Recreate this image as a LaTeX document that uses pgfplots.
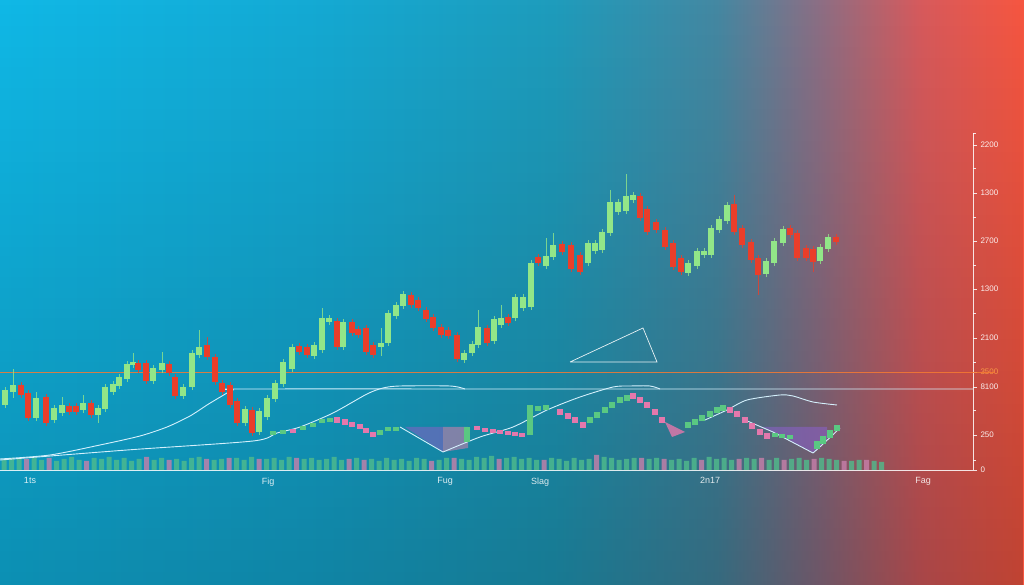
\documentclass[border=0pt]{standalone}
\usepackage{pgfplots}
\pgfplotsset{compat=1.18}
\usepackage{pgfplotstable}
\usepackage{fontspec}
\setmainfont{Liberation Sans}
\usetikzlibrary{fadings}

\definecolor{bg0}{RGB}{16,184,230}
\definecolor{bg1}{RGB}{20,170,212}
\definecolor{bg2}{RGB}{30,156,188}
\definecolor{bg3}{RGB}{68,136,162}
\definecolor{bg4}{RGB}{140,110,132}
\definecolor{bg5}{RGB}{215,90,92}
\definecolor{bg6}{RGB}{246,86,64}
\pgfdeclarehorizontalshading{bgshade}{100bp}{color(0bp)=(bg0); color(25bp)=(bg0); color(40bp)=(bg1); color(52bp)=(bg2); color(60bp)=(bg3); color(65bp)=(bg4); color(70bp)=(bg5); color(75bp)=(bg6); color(100bp)=(bg6)}

\definecolor{cgreen}{RGB}{146,230,136}
\definecolor{cred}{RGB}{234,62,42}
\definecolor{volgreen}{RGB}{80,188,140}
\definecolor{volpink}{RGB}{200,128,170}
\definecolor{oscgreen}{RGB}{90,200,130}
\definecolor{oscpink}{RGB}{228,120,172}
\definecolor{cpurple}{RGB}{136,96,196}
\definecolor{curve}{RGB}{212,240,252}
\definecolor{orangeline}{RGB}{246,122,50}

% candles: x, body bottom, body top, low, high
\pgfplotstableread{
x bot top low high
5 65 80 62 83
13 78 85 72 101
36 52 72 49 78
54 50 62 47 65
62 57 65 54 73
83 60 67 57 75
98 55 62 47 65
105 61 83 58 86
113 78 86 75 89
119 84 93 81 96
127 91 106 88 109
133 105 108 102 117
153 89 102 86 105
162 100 107 97 118
183 74 83 71 86
192 83 117 80 120
199 115 123 112 140
245 47 61 44 64
259 38 59 35 62
267 53 72 50 75
275 71 87 68 90
283 86 108 83 111
292 101 123 98 126
314 114 125 111 128
322 120 152 117 162
329 148 152 145 155
343 123 148 120 151
381 123 127 114 142
388 127 157 124 160
396 154 165 151 168
403 164 176 161 179
464 110 117 107 120
472 117 126 114 129
478 125 143 122 160
494 129 151 126 154
501 145 152 142 165
515 152 173 149 176
523 162 173 159 176
531 163 207 160 210
546 204 214 201 232
553 213 225 210 237
588 207 227 204 230
595 219 227 216 230
602 220 238 217 241
610 237 268 234 280
618 258 268 255 271
626 259 274 256 296
633 270 275 267 278
688 197 207 194 210
697 204 219 201 222
704 215 219 212 222
711 215 242 212 245
719 240 251 237 254
727 249 265 246 268
766 196 209 193 212
774 207 229 204 232
783 227 241 224 244
820 209 223 206 226
828 221 233 218 236
}\greens

\pgfplotstableread{
x bot top low high
21 75 85 72 88
28 52 77 49 80
46 47 73 44 76
69 58 64 55 67
76 58 64 55 67
91 55 67 52 70
138 100 107 97 110
146 89 107 86 110
169 97 106 94 109
175 74 93 71 96
207 113 125 110 133
215 88 113 85 116
222 78 87 75 90
230 65 85 62 88
237 47 69 44 72
252 37 60 34 63
299 118 124 115 127
307 115 123 112 126
337 123 149 120 152
352 137 148 134 151
358 135 141 132 144
366 118 142 115 145
373 115 125 112 128
411 165 175 162 178
418 162 170 159 173
426 151 160 148 163
433 142 153 139 156
441 135 143 132 146
448 134 140 131 143
457 111 135 108 138
487 127 142 124 145
508 147 153 144 156
538 207 213 204 216
562 218 226 215 229
571 201 225 198 228
580 198 215 195 218
640 252 274 249 277
647 238 261 235 264
656 240 248 237 251
665 223 240 220 243
673 203 227 200 230
681 198 212 195 215
734 238 266 235 275
742 225 242 222 245
751 210 228 207 231
758 195 212 175 215
790 235 242 232 245
797 212 237 209 240
806 212 222 209 225
813 208 221 198 224
836 228 233 225 236
}\reds

\pgfplotstableread{
x h
4 10
11.5 12
19 11
34 12
41.5 10
56.5 9
64 11
71.5 13
79 10
94 12
101.5 11
109 13
116.5 10
124 12
131.5 9
139 11
154 10
161.5 12
176.5 11
184 9
191.5 12
199 13
214 10
221.5 11
236.5 12
244 10
251.5 13
266.5 11
274 12
281.5 10
289 13
304 11
311.5 12
319 10
326.5 11
334 13
341.5 10
356.5 12
371.5 11
379 9
386.5 12
394 10
401.5 11
409 9
416.5 12
424 11
439 10
446.5 12
461.5 11
469 10
476.5 13
484 12
491.5 14
506.5 12
514 13
521.5 11
529 12
536.5 10
551.5 12
559 11
566.5 9
574 12
581.5 10
589 11
604 13
611.5 12
619 10
626.5 11
634 12
649 11
656.5 12
671.5 10
679 11
686.5 9
694 12
709 13
716.5 11
724 12
731.5 10
746.5 12
754 11
769 10
776.5 12
791.5 11
799 12
806.5 10
821.5 12
829 11
836.5 10
851.5 9
859 10
874 9
881.5 8
}\volgreen

\pgfplotstableread{
x h
26.5 11
49 12
86.5 9
146.5 13
169 10
206.5 11
229 12
259 11
296.5 12
349 11
364 10
431.5 9
454 12
499 11
544 10
596.5 15
641.5 12
664 11
701.5 10
739 11
761.5 12
784 10
814 11
844 9
866.5 10
}\volpink

\pgfplotstableread{
x y e
273 37 2
283 38 2
303 42 2
313 45 2
322 49 2
330 50 2
380 37 2.5
388 41 2
396 41 2
467 35 7.5
530 50 15
538 61 2.5
546 62 2.5
590 50 3
597 55 3
605 60 3
612 65 3
620 70 3
627 72 3
688 45 3
695 48 3
702 52 3
710 56 3
717 60 3
723 62 3
775 35 2
782 34 2
790 33 2
817 25 4
823 30 4
830 36 4
837 42 3
}\oscgreen

\pgfplotstableread{
x y e
293 39 2
337 50 3
345 48 3
352 45 2.5
360 43 2.5
366 39 2.5
373 35 2.5
477 42 2
485 40 2
493 39 2
500 38 2
508 37 2
515 36 2
522 35 2
560 58 3
568 54 3
575 50 3
583 45 3
633 74 3
640 70 3
647 65 3
655 58 3
662 50 3
730 60 3
737 56 3
745 50 3
752 44 3
760 38 3
767 34 3
}\oscpink

\begin{document}
\begin{tikzpicture}
\useasboundingbox (0,0) rectangle (1024pt,585pt);
\shade[shading=bgshade] (0,0) rectangle (1024pt,585pt);
\fill[black, opacity=0.22, path fading=north] (0,0) rectangle (1024pt,585pt);
\begin{axis}[
  at={(0pt,115pt)}, anchor=south west,
  scale only axis, width=973pt, height=337pt,
  xmin=0, xmax=973, ymin=0, ymax=337,
  axis x line*=bottom, axis y line*=right,
  axis line style={draw=white, draw opacity=0.85, line width=0.8pt, -},
  clip=false,
  xtick={30,268,445,540,710,923},
  xticklabels={1ts,Fig,Fug,Slag,2n17,Fag},
  major x tick style={draw=none},
  ytick={0,35,83,132,181,229,277,325},
  yticklabels={0,250,8100,2100,1300,2700,1300,2200},
  minor ytick={10,60,108,157,205,253,302,337},
  extra y ticks={98}, extra y tick labels={3500},
  extra y tick style={yticklabel style={text={rgb,255:red,252;green,160;blue,70}}},
  tick align=outside,
  major tick length=4pt, minor tick length=3pt,
  major y tick style={draw=white, line width=0.6pt, draw opacity=0.85},
  minor y tick style={draw=white, line width=0.6pt, draw opacity=0.85},
  xticklabel style={font=\fontsize{9}{10}\selectfont, text=white, text opacity=0.85},
  yticklabel style={font=\fontsize{8}{9}\selectfont, text=white, text opacity=0.9},
]
% volume
\addplot[ybar, bar width=5pt, bar shift=0pt, fill=volgreen, fill opacity=0.8, draw=none] table[x=x, y=h] {\volgreen};
\addplot[ybar, bar width=5pt, bar shift=0pt, fill=volpink, fill opacity=0.8, draw=none] table[x=x, y=h] {\volpink};
% shaded regions
\addplot[fill=cpurple, fill opacity=0.55, draw=none] coordinates {(405,43) (443,18) (443,43) (405,43)};
\addplot[fill=volpink, fill opacity=0.6, draw=none] coordinates {(443,43) (468,43) (468,22) (443,18) (443,43)};
\addplot[fill=oscpink, fill opacity=0.8, draw=none] coordinates {(665,48) (672,33) (685,38) (665,48)};
\addplot[fill=cpurple, fill opacity=0.6, draw=none] coordinates {(760,43) (827,43) (827,30) (813,17) (773,38) (760,43)};
% curves
\addplot[curve, line width=0.9pt, smooth, tension=0.45] coordinates {(0,11) (50,15) (100,25) (140,34) (167,43) (190,54) (207,65) (222,74) (233,80) (245,81) (600,81) (973,81)};
\addplot[curve, line width=0.9pt, smooth, tension=0.45] coordinates {(0,10) (127,20) (253,29) (277,37) (300,43) (333,57) (367,76) (383,82) (400,84) (450,84) (465,81)};
\addplot[curve, line width=0.9pt] coordinates {(400,43) (443,18)};
\addplot[curve, line width=0.9pt, smooth, tension=0.45] coordinates {(443,18) (480,33) (513,43) (547,60) (580,73) (613,83) (630,84) (650,84) (660,81)};
\addplot[curve, line width=0.9pt, smooth, tension=0.45] coordinates {(705,50) (727,60) (747,70) (780,75) (793,74) (813,68) (837,65)};
\addplot[curve, line width=0.9pt] coordinates {(745,50) (773,38) (813,17)};
\addplot[curve, line width=0.9pt, smooth, tension=0.45] coordinates {(813,17) (822,25) (840,42)};
% oscillator squares
\addplot[draw=none, mark=none, error bars/.cd, y dir=both, y explicit, error mark=none, error bar style={draw=oscgreen, line width=5.5pt}] table[x=x, y=y, y error=e] {\oscgreen};
\addplot[draw=none, mark=none, error bars/.cd, y dir=both, y explicit, error mark=none, error bar style={draw=oscpink, line width=5.5pt}] table[x=x, y=y, y error=e] {\oscpink};
% orange level line
\addplot[orangeline, line width=0.9pt, opacity=0.85] coordinates {(0,98) (995,98)};
% triangle annotation
\addplot[white, line width=0.7pt, opacity=0.9] coordinates {(570,108) (643,142) (657,108) (570,108)};
% candle wicks
\addplot[draw=none, mark=none, error bars/.cd, y dir=plus, y explicit, error mark=none, error bar style={draw=cgreen, line width=1pt, draw opacity=0.8}] table[x=x, y=low, y error expr=\thisrow{high}-\thisrow{low}] {\greens};
\addplot[draw=none, mark=none, error bars/.cd, y dir=plus, y explicit, error mark=none, error bar style={draw=cred, line width=1pt, draw opacity=0.8}] table[x=x, y=low, y error expr=\thisrow{high}-\thisrow{low}] {\reds};
% candle bodies
\addplot[draw=none, mark=none, error bars/.cd, y dir=plus, y explicit, error mark=none, error bar style={draw=cgreen, line width=5.5pt}] table[x=x, y=bot, y error expr=\thisrow{top}-\thisrow{bot}] {\greens};
\addplot[draw=none, mark=none, error bars/.cd, y dir=plus, y explicit, error mark=none, error bar style={draw=cred, line width=5.5pt}] table[x=x, y=bot, y error expr=\thisrow{top}-\thisrow{bot}] {\reds};
\end{axis}
\end{tikzpicture}
\end{document}
